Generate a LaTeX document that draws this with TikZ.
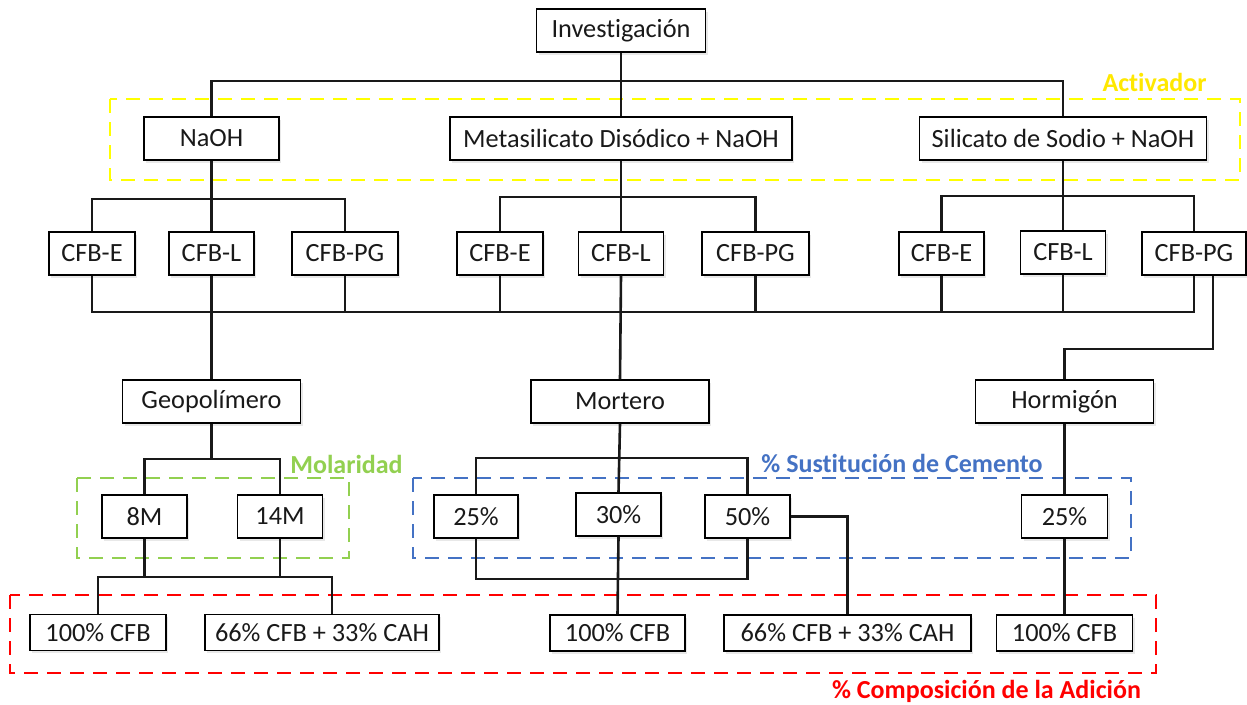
\documentclass[tikz,border=0pt]{standalone}
\usepackage{fontspec}
\setmainfont{Carlito}[Ligatures={NoCommon,NoRare}]
\usetikzlibrary{shadows}
\definecolor{ylw}{HTML}{FFFF00}
\definecolor{ylwtxt}{HTML}{FFE800}
\definecolor{grn}{HTML}{92D050}
\definecolor{blu}{HTML}{4472C4}
\definecolor{rd}{HTML}{FF0000}
\begin{document}
\begin{tikzpicture}[x=1pt,y=-1pt,
  box/.style={draw=black,line width=1.3pt,fill=white,inner sep=0pt,
    minimum height=43pt,font=\fontsize{26.3}{30}\selectfont,text=black!90,
    drop shadow={shadow xshift=2pt,shadow yshift=-2.5pt,opacity=0.18}},
  lowbox/.style={box,minimum height=36pt},
  conn/.style={line width=2.6pt,black!90},
  grp/.style={dashed,line width=2.8pt,dash pattern=on 14pt off 9pt},
  lbl/.style={font=\fontsize{26}{30}\selectfont\bfseries,inner sep=0pt}]
\useasboundingbox (0,0) rectangle (1247,704);
\fill[white] (0,0) rectangle (1247,704);

% group frames
\draw[grp,ylw] (110,99) rectangle (1240,180);
\draw[grp,grn] (77,478) rectangle (349,558);
\draw[grp,blu] (413,478) rectangle (1131,558);
\draw[grp,rd] (10,595) rectangle (1156,673);

% coordinates for buses
\coordinate (top) at (0,81);
\coordinate (busA) at (0,199);
\coordinate (busB) at (0,197);
\coordinate (busC) at (0,196);
\coordinate (busD) at (0,312);
\coordinate (busE) at (0,349);
\coordinate (busF) at (0,459);
\coordinate (busG) at (0,577);
\coordinate (busH) at (0,458);
\coordinate (busI) at (0,579);

% nodes
\node[box,minimum width=169pt] (inv) at (621,30.5) {Investigación};
\node[box,minimum width=135pt] (naoh) at (211.5,138.5) {NaOH};
\node[box,minimum width=342pt] (meta) at (621,138.5) {Metasilicato Disódico + NaOH};
\node[box,minimum width=287pt] (sil) at (1063,138.5) {Silicato de Sodio + NaOH};

\node[box,minimum width=86pt] (e1) at (92,253.5) {CFB-E};
\node[box,minimum width=85pt] (l1) at (211.5,253.5) {CFB-L};
\node[box,minimum width=106pt] (p1) at (345,253.5) {CFB-PG};
\node[box,minimum width=86pt] (e2) at (500,253.5) {CFB-E};
\node[box,minimum width=85pt] (l2) at (621,253.5) {CFB-L};
\node[box,minimum width=107pt] (p2) at (755.5,253.5) {CFB-PG};
\node[box,minimum width=85pt] (e3) at (941.5,253.5) {CFB-E};
\node[box,minimum width=85pt] (l3) at (1063,252.5) {CFB-L};
\node[box,minimum width=104pt] (p3) at (1194,253.5) {CFB-PG};

\node[box,minimum width=178pt] (geo) at (211.5,401.5) {Geopolímero};
\node[box,minimum width=178pt] (mort) at (620,401.5) {Mortero};
\node[box,minimum width=178pt] (horm) at (1064.5,401.5) {Hormigón};

\node[box,minimum width=85pt] (m8) at (144.5,516.5) {8M};
\node[box,minimum width=85pt] (m14) at (280,516.5) {14M};
\node[box,minimum width=84pt] (s25) at (476,516.5) {25\%};
\node[box,minimum width=85pt] (s30) at (618.5,514.5) {30\%};
\node[box,minimum width=85pt] (s50) at (747.5,516.5) {50\%};
\node[box,minimum width=86pt] (h25) at (1064.5,516.5) {25\%};

\node[lowbox,minimum width=136pt] (g100) at (98,632.5) {100\% CFB};
\node[lowbox,minimum width=234pt] (g66) at (322,632.5) {66\% CFB + 33\% CAH};
\node[lowbox,minimum width=135pt] (t100) at (617.5,633) {100\% CFB};
\node[lowbox,minimum width=247pt] (t66) at (847.5,633) {66\% CFB + 33\% CAH};
\node[lowbox,minimum width=136pt] (h100) at (1064.5,633) {100\% CFB};

% labels
\node[lbl,text=ylwtxt] (lact) at (1154.5,82) {Activador};
\node[lbl,text=grn] (lmol) at (346.5,464) {Molaridad};
\node[lbl,text=blu] (lsus) at (902,463) {\% Sustitución de Cemento};
\node[lbl,text=rd] (lcom) at (986.5,691) {\% Composición de la Adición};

% connectors
\begin{scope}[conn]
\draw (inv.south) -- (meta.north);
\draw (naoh.north) -- (naoh.north |- top) -| (sil.north);
% NaOH group
\draw (naoh.south) -- (l1.north);
\draw (e1.north) -- (e1.north |- busA) -| (p1.north);
% Meta group
\draw (meta.south) -- (l2.north);
\draw (e2.north) -- (e2.north |- busB) -| (p2.north);
% Sil group
\draw (sil.south) -- (l3.north);
\draw (e3.north) -- (e3.north |- busC) -| (p3.north);
% bottom bus
\draw (e1.south) |- (p3.south |- busD) -- (p3.south);
\draw (p1.south) -- (p1.south |- busD);
\draw (e2.south) -- (e2.south |- busD);
\draw (p2.south) -- (p2.south |- busD);
\draw (e3.south) -- (e3.south |- busD);
\draw (l3.south) -- (l3.south |- busD);
\draw (l1.south) -- (geo.north);
\draw (l2.south) -- (mort.north);
% Hormigon
\coordinate (p3b) at ([xshift=19pt]p3.south);
\draw (p3b) |- (horm.north |- busE) -- (horm.north);
% Geopolimero
\draw (geo.south) -- (geo.south |- busF);
\draw (m8.north) -- (m8.north |- busF) -| (m14.north);
\coordinate (g66t) at ([xshift=10pt]g66.north);
\draw (m8.south) -- (m8.south |- busG);
\draw (m14.south) -- (m14.south |- busG);
\draw (g100.north) |- (g66t |- busG) -- (g66t);
% Mortero
\draw (mort.south) -- (s30.north);
\draw (s25.north) |- (s50.north |- busH) -- (s50.north);
\draw (s25.south) |- (s50.south |- busI) -- (s50.south);
\draw (s30.south) -- (t100.north);
\draw (s50.east) -| (t66.north);
% Hormigon chain
\draw (horm.south) -- (h25.north);
\draw (h25.south) -- (h100.north);
\end{scope}
\end{tikzpicture}
\end{document}
